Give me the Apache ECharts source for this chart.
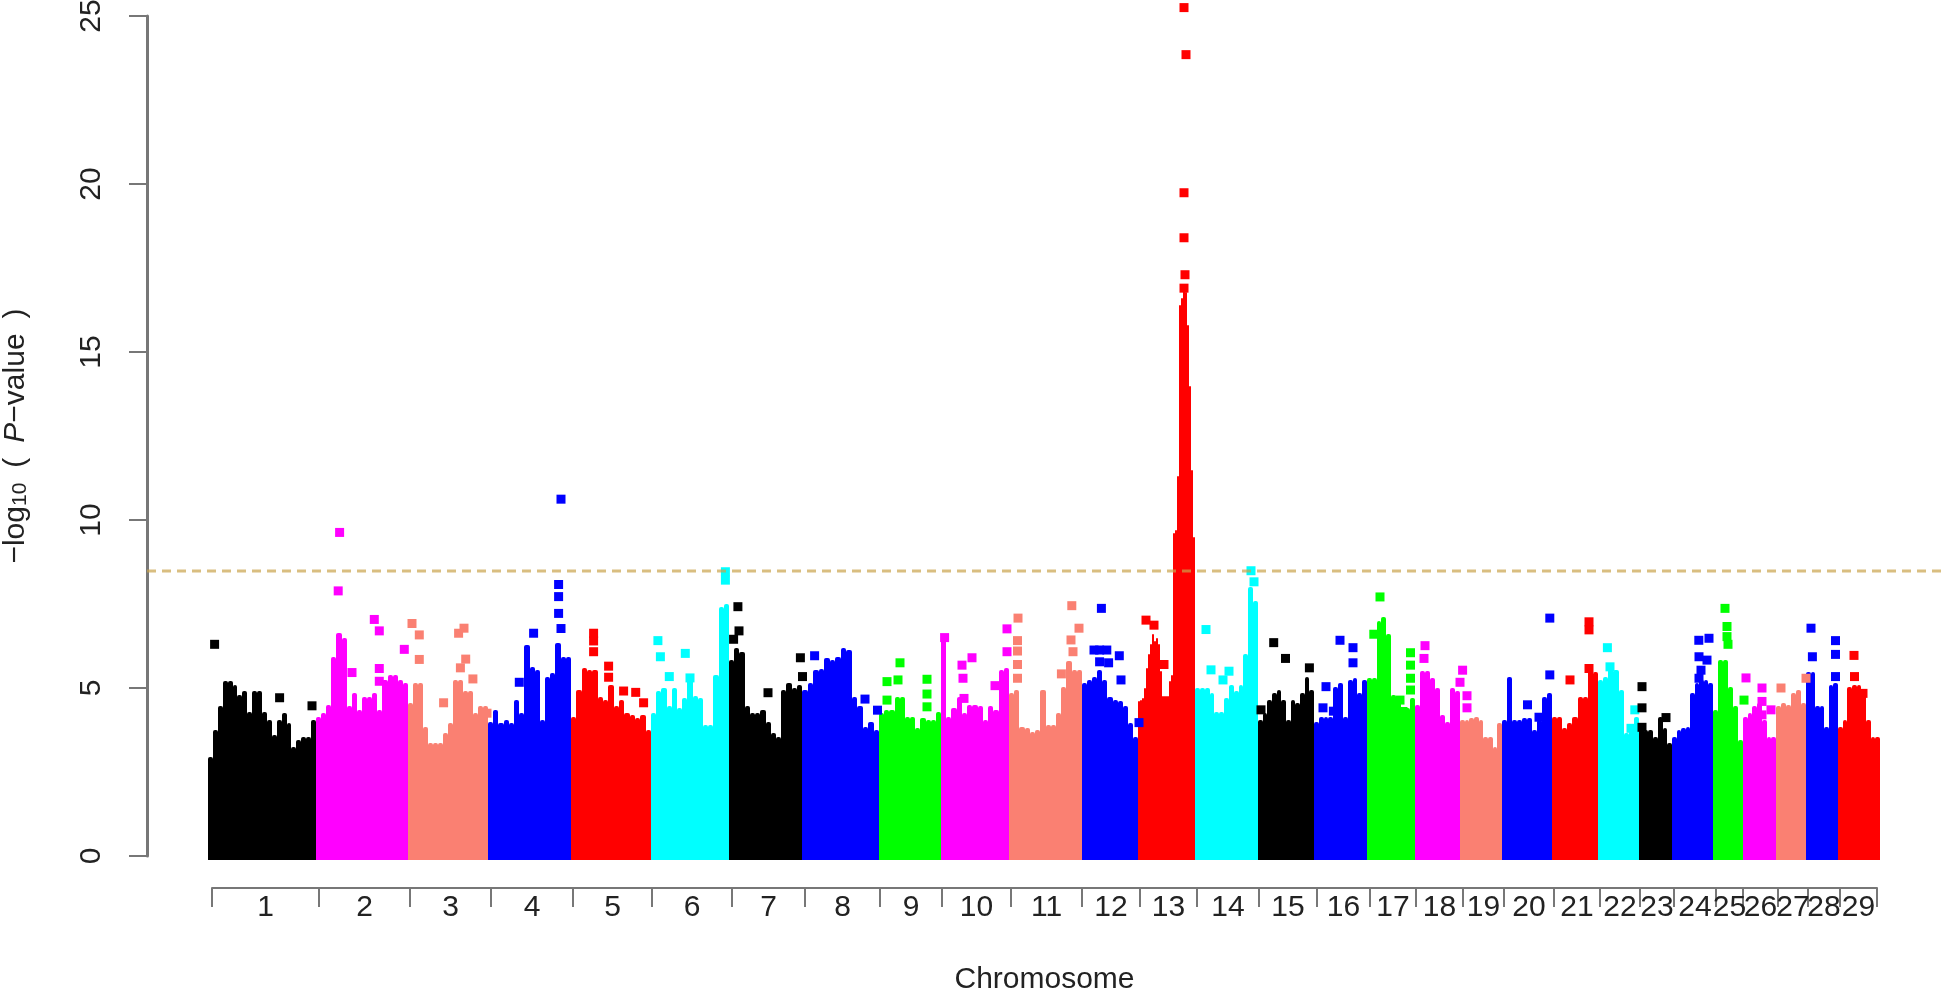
<!DOCTYPE html>
<html>
<head>
<meta charset="utf-8">
<title>Manhattan plot</title>
<script src="https://cdn.jsdelivr.net/npm/echarts@6/dist/echarts.min.js"></script>
<style>
  html, body { margin: 0; padding: 0; background: #fff; }
  #main { width: 1944px; height: 993px; }
</style>
</head>
<body>
<div id="main"></div>
<script>
const chrNames = ['1','2','3','4','5','6','7','8','9','10','11','12','13','14','15','16','17','18','19','20','21','22','23','24','25','26','27','28','29'];
const chrColors = ['#000000','#ff00ff','#fa8072','#0000ff','#ff0000','#00ffff','#000000','#0000ff','#00ff00','#ff00ff','#fa8072','#0000ff','#ff0000','#00ffff','#000000','#0000ff','#00ff00','#ff00ff','#fa8072','#0000ff','#ff0000','#00ffff','#000000','#0000ff','#00ff00','#ff00ff','#fa8072','#0000ff','#ff0000'];
// genome position of the chromosome edges, as read from the mass of points
const chrEdges = [208,316,408,488,571,651,729,802,879,941,1009,1082,1138,1195,1258,1314,1367,1415,1460,1502,1552,1598,1639,1672,1713,1743,1776,1806,1838,1880];
// genome position of the bracket ticks under the plot
const chrTicks = [212,319,410,491,573,652,732,805,880,942,1011,1082,1140,1197,1259,1317,1370,1416,1463,1504,1554,1600,1640,1674,1716,1743,1778,1808,1840,1877];
const yTicks = [0,5,10,15,20,25];
const threshold = 8.48;

// top of the solid mass of points, left to right along each chromosome
const top1 = [2.95,3.75,4.45,5.2,5.2,5.1,4.8,4.9,4.3,4.9,4.9,4.3,4.05,3.6,4.05,4.25,3.95,3.25,3.45,3.55,3.55,4.05];
const top2 = [4.15,4.25,4.5,5.93,6.63,6.5,4.45,4.84,4.35,4.74,4.74,4.84,4.35,5.24,5.39,5.39,5.24,5.14];
const top3 = [4.55,5.14,5.14,3.85,3.35,3.35,3.35,3.65,3.95,5.24,5.24,4.9,4.9,4.25,4.45,4.45];
const top4 = [4.0,4.35,3.95,4.05,3.95,4.64,4.25,6.28,5.63,5.53,4.05,5.34,5.44,6.33,5.93,5.93];
const top5 = [4.15,4.94,5.6,5.53,5.53,4.74,4.64,5.09,4.45,4.64,4.25,4.2,4.1,4.2,3.75];
const top6 = [4.25,4.9,5.0,4.45,5.0,4.4,4.7,5.3,4.75,4.7,3.9,3.9,5.4,7.4,7.5];
const top7 = [5.83,6.18,6.08,4.45,4.25,4.25,4.35,4.0,3.65,3.55,4.94,5.14,5.0,5.09];
const top8 = [4.94,5.14,5.53,5.58,5.9,5.83,5.93,6.18,6.13,4.74,4.45,3.85,4.0,3.75];
const top9 = [4.25,4.35,4.35,4.74,4.74,4.15,4.15,3.8,4.1,4.05,4.05,4.3];
const top10 = [6.43,4.15,4.4,4.74,4.25,4.5,4.5,4.45,4.05,4.45,4.35,5.54,5.6];
const top11 = [4.84,4.94,3.85,3.8,3.7,3.75,4.94,3.9,3.9,4.25,5.04,5.8,5.53,5.53];
const top12 = [5.14,5.24,5.34,5.53,5.24,4.74,4.64,4.6,4.45,3.95,3.55];
const top13 = [4.6,4.65,4.7,5.0,5.6,6.0,6.3,6.6,6.4,6.5,6.3,5.5,4.75,4.75,4.75,4.75,5.2,5.4,9.6,9.7,11.3,16.4,16.6,17.0,16.8,15.8,14,11.5,9.5];
const top14 = [5.0,5.0,5.0,4.84,4.3,4.3,4.7,5.1,4.9,5.1,6.0,8.0,7.6];
const top15 = [4.05,4.25,4.64,4.84,4.94,4.64,4.05,4.64,4.54,4.84,5.34,4.94];
const top16 = [4.0,4.15,4.15,4.15,5.04,5.14,4.15,5.24,5.29,4.84,5.24];
const top17 = [5.3,5.3,7.0,7.1,6.6,4.8,4.6,4.3,4.4,4.7];
const top18 = [4.5,5.5,5.5,5.3,5.0,4.2,4.0,5.0,4.9];
const top19 = [4.05,4.05,4.1,4.15,4.05,3.55,3.55,3.25,3.95];
const top20 = [4.05,5.34,4.05,4.05,4.1,4.1,3.75,4.05,4.74,4.84];
const top21 = [4.15,4.15,3.8,3.95,4.15,4.74,4.74,5.53,5.48];
const top22 = [5.24,5.34,5.73,5.53,4.94,3.65,3.85,4.15];
const top23 = [3.8,3.75,3.75,3.55,4.15,3.8,3.35];
const top24 = [3.55,3.75,3.8,3.85,4.84,5.14,5.24,5.24,5.14];
const top25 = [4.35,5.83,5.83,5.04,4.45,3.45];
const top26 = [4.15,4.25,4.45,4.54,4.05,3.55,3.55];
const top27 = [4.45,4.54,4.5,4.84,4.94,4.54];
const top28 = [5.48,5.48,4.45,4.45,3.85,5.09,5.14];
const top29 = [3.85,4.05,5.04,5.09,5.09,4.84,4.05,3.55,3.55];

// separate points above the mass: position, -log10 p
const hits1 = [[214.6,6.3],[279.6,4.71],[312,4.47]];
const hits2 = [[339.6,9.63],[338.2,7.89],[374.3,7.04],[379.3,6.7],[404.3,6.15],[379.3,5.58],[379.3,5.2],[352,5.46]];
const hits3 = [[412,6.92],[419.3,6.58],[419.3,5.85],[464,6.78],[458.6,6.63],[465.7,5.86],[460.4,5.6],[472.9,5.27],[443.6,4.56],[487,4.25]];
const hits4 = [[561,10.62],[558.6,8.08],[558.6,7.72],[558.6,7.22],[561,6.77],[533.6,6.63],[519.3,5.17],[551.4,4.94]];
const hits5 = [[593.6,6.63],[593.6,6.4],[593.6,6.08],[608.6,5.65],[608.6,5.32],[623.6,4.91],[635.7,4.87],[643.6,4.56]];
const hits6 = [[657.9,6.41],[660.4,5.93],[669.3,5.34],[685.3,6.03],[725.4,8.46],[725.4,8.21],[690,5.3]];
const hits7 = [[737.9,7.42],[739,6.7],[733.6,6.45],[800.4,5.9],[802.5,5.34],[768,4.86]];
const hits8 = [[814.6,5.96],[865,4.67],[877.5,4.34]];
const hits9 = [[900,5.75],[887,5.19],[898,5.24],[927,5.26],[927,4.82],[927,4.44],[887,4.64]];
const hits10 = [[944.6,6.5],[1007,6.76],[1007,6.08],[972,5.9],[962,5.68],[963,5.29],[964,4.69],[995,5.07]];
const hits11 = [[1018,7.08],[1017.5,6.41],[1017.5,6.1],[1017.5,5.7],[1017.5,5.29],[1071.8,7.45],[1079,6.78],[1071,6.43],[1073,6.08],[1061.4,5.42]];
const hits12 = [[1101.4,7.37],[1099.6,6.13],[1094,6.13],[1106.8,6.13],[1099.6,5.78],[1108.6,5.75],[1119.3,5.96],[1121,5.24],[1139,3.97]];
const hits13 = [[1146,7.02],[1154,6.87],[1164,5.7],[1184,25.25],[1186,23.85],[1184,19.74],[1184,18.4],[1185,17.3],[1184,16.9]];
const hits14 = [[1206,6.74],[1211,5.54],[1223,5.24],[1229,5.5],[1251,8.49],[1254,8.16]];
const hits15 = [[1273.7,6.35],[1285.5,5.88],[1309.4,5.6],[1261,4.35]];
const hits16 = [[1340,6.42],[1353,6.2],[1353,5.75],[1326,5.04],[1323,4.41],[1333.4,4.31]];
const hits17 = [[1380,7.71],[1373.8,6.6],[1410.5,6.05],[1410.5,5.68],[1410.5,5.29],[1410.5,4.94],[1400,4.64],[1403,4.3]];
const hits18 = [[1425,6.26],[1424,5.88],[1462.6,5.53],[1460,5.17],[1467,4.77],[1467,4.41]];
const hits19 = [];
const hits20 = [[1549.8,7.08],[1549.8,5.39],[1527.5,4.5],[1539,4.13]];
const hits21 = [[1589,6.97],[1589,6.73],[1570,5.24],[1589,5.58]];
const hits22 = [[1607.4,6.2],[1610,5.63],[1634.8,4.35],[1631,3.8]];
const hits23 = [[1642,5.04],[1642,4.41],[1642,3.83],[1666,4.12]];
const hits24 = [[1698.8,6.42],[1709,6.48],[1699,5.93],[1707,5.83],[1701,5.53],[1699,5.29]];
const hits25 = [[1725,7.37],[1727,6.83],[1727,6.53],[1728,6.3],[1744,4.64]];
const hits26 = [[1746,5.3],[1762,5],[1762,4.6],[1771,4.35],[1762,4.2]];
const hits27 = [[1781,5],[1806,5.29]];
const hits28 = [[1811,6.78],[1835.5,6.41],[1835.5,6],[1812.4,5.93],[1835.5,5.34]];
const hits29 = [[1854,5.97],[1854.5,5.34],[1863,4.84]];

const chrTops = [top1,top2,top3,top4,top5,top6,top7,top8,top9,top10,top11,top12,top13,top14,top15,top16,top17,top18,top19,top20,top21,top22,top23,top24,top25,top26,top27,top28,top29];
const chrHits = [hits1,hits2,hits3,hits4,hits5,hits6,hits7,hits8,hits9,hits10,hits11,hits12,hits13,hits14,hits15,hits16,hits17,hits18,hits19,hits20,hits21,hits22,hits23,hits24,hits25,hits26,hits27,hits28,hits29];

const textColor = '#222';
const axisColor = '#777';
const fontFamily = '"Liberation Sans", Arial, sans-serif';

const labelMids = chrNames.map((n, i) => (chrTicks[i] + chrTicks[i + 1]) / 2);

// one rect per column of the mass, runs a little below zero like the marker edge does
function renderColumn(params, api) {
  const p0 = api.coord([api.value(0), api.value(2)]);
  const p1 = api.coord([api.value(1), 0]);
  const x0 = Math.round(p0[0]);
  const x1 = Math.round(p1[0]);
  return {
    type: 'rect',
    shape: { x: x0, y: Math.round(p0[1]), width: x1 - x0, height: Math.round(p1[1]) - Math.round(p0[1]) + 4, r: [2, 2, 0, 0] },
    style: { fill: api.visual('color') }
  };
}

const series = [];
chrTops.forEach((tops, c) => {
  const w = (chrEdges[c + 1] - chrEdges[c]) / tops.length;
  series.push({
    type: 'custom',
    name: 'chr' + chrNames[c],
    renderItem: renderColumn,
    itemStyle: { color: chrColors[c] },
    encode: { x: [0, 1], y: 2 },
    data: tops.map((v, i) => [chrEdges[c] + i * w, chrEdges[c] + (i + 1) * w, v]),
    z: 2
  });
  series.push({
    type: 'scatter',
    name: 'chr' + chrNames[c] + ' hits',
    symbol: 'rect',
    symbolSize: 9,
    clip: false,
    itemStyle: { color: chrColors[c], opacity: 1 },
    data: chrHits[c],
    z: 3
  });
});
series.push({
  type: 'line',
  name: 'threshold',
  showSymbol: false,
  silent: true,
  lineStyle: { color: '#c9a24a', width: 3, type: [9, 6], opacity: 0.7 },
  data: [[147, threshold], [1944, threshold]],
  z: 5
});

const myChart = echarts.init(document.getElementById('main'), null, { renderer: 'canvas' });
myChart.setOption({
  animation: false,
  backgroundColor: '#fff',
  textStyle: { fontFamily: fontFamily },
  grid: [
    { left: 147, right: 0, top: 16, bottom: 137, outerBoundsMode: 'none' },
    { left: 212, width: 1665, top: 887, height: 1, outerBoundsMode: 'none' }
  ],
  xAxis: [
    { type: 'value', gridIndex: 0, min: 147, max: 1944, show: false },
    {
      type: 'value',
      gridIndex: 1,
      min: 212,
      max: 1877,
      position: 'bottom',
      name: 'Chromosome',
      nameLocation: 'middle',
      nameGap: 77,
      nameTextStyle: { color: textColor, fontSize: 30, fontFamily: fontFamily },
      axisLine: { show: true, lineStyle: { color: axisColor, width: 2 } },
      axisTick: { show: true, length: 19, customValues: chrTicks, lineStyle: { color: axisColor, width: 2 } },
      axisLabel: {
        show: true,
        color: textColor,
        fontSize: 30,
        margin: 5,
        hideOverlap: false,
        customValues: labelMids,
        formatter: v => chrNames[labelMids.indexOf(v)]
      },
      splitLine: { show: false }
    }
  ],
  yAxis: [
    {
      type: 'value',
      gridIndex: 0,
      min: 0,
      max: 25,
      interval: 5,
      name: '−log{sub|10}\u2002(\u2002{it|P}−value\u2002)',
      nameLocation: 'middle',
      nameRotate: 90,
      nameGap: 116,
      nameTextStyle: {
        color: textColor,
        fontSize: 30,
        fontFamily: fontFamily,
        rich: {
          sub: { fontSize: 21, color: textColor, verticalAlign: 'bottom', fontFamily: fontFamily },
          it: { fontSize: 30, color: textColor, fontStyle: 'italic', fontFamily: fontFamily }
        }
      },
      axisLine: { show: true, onZero: false, lineStyle: { color: axisColor, width: 3 } },
      axisTick: { show: true, length: 18, lineStyle: { color: axisColor, width: 2 } },
      axisLabel: {
        show: true,
        color: textColor,
        fontSize: 30,
        rotate: 90,
        margin: 40,
        customValues: yTicks
      },
      splitLine: { show: false }
    },
    { type: 'value', gridIndex: 1, min: 0, max: 1, show: false }
  ],
  series: series
});
</script>
</body>
</html>
